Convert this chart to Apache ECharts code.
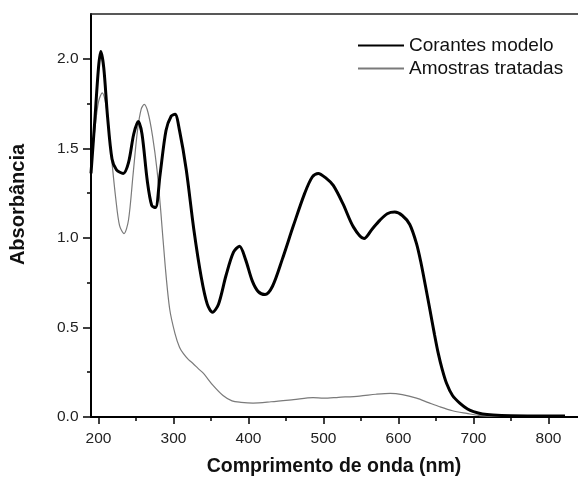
<!DOCTYPE html>
<html><head><meta charset="utf-8">
<script src="https://cdn.jsdelivr.net/npm/echarts@6/dist/echarts.min.js"></script>
<style>html,body{margin:0;padding:0;background:#fff}#c{width:578px;height:480px}</style>
</head><body><div id="c"></div>
<script>
// Corantes modelo (thick black)
const wlCorantes = [190,195,200,203,207,212,218,224,233,240,247,253,258,265,271,276,282,290,297,302,308,317,327,337,345,352,360,370,380,388,396,405,413,422,432,445,460,475,485,493,503,513,526,540,554,565,575,585,595,605,615,624,630,636,642,648,653,658,664,672,682,692,700,712,726,750,780,822];
const absCorantes = [1.36,1.65,1.95,2.04,1.95,1.68,1.44,1.38,1.36,1.42,1.58,1.65,1.58,1.32,1.18,1.17,1.35,1.6,1.68,1.69,1.6,1.38,1.05,0.78,0.63,0.585,0.63,0.79,0.92,0.953,0.88,0.76,0.7,0.684,0.73,0.88,1.07,1.25,1.34,1.36,1.335,1.293,1.19,1.06,0.996,1.05,1.098,1.135,1.144,1.125,1.075,0.968,0.86,0.73,0.596,0.46,0.355,0.27,0.188,0.12,0.076,0.045,0.03,0.017,0.011,0.007,0.006,0.005];
// Amostras tratadas (thin grey)
const wlAmostras = [190,195,200,205,210,214,218,223,228,234,240,246,252,257,261,266,272,278,283,289,295,302,308,313,320,326,333,340,353,366,378,390,406,430,460,486,500,520,548,570,589,605,624,640,655,672,691,708,730,820];
const absAmostras = [1.38,1.6,1.76,1.81,1.74,1.6,1.42,1.22,1.07,1.024,1.1,1.35,1.6,1.72,1.745,1.7,1.57,1.38,1.15,0.84,0.6,0.466,0.39,0.355,0.32,0.299,0.27,0.243,0.175,0.12,0.09,0.082,0.078,0.085,0.097,0.108,0.105,0.11,0.117,0.127,0.132,0.125,0.105,0.08,0.057,0.035,0.02,0.008,0.004,0.003];
const seriesNames = ['Corantes modelo','Amostras tratadas'];
const xMajorTicks = [200,300,400,500,600,700,800];
const xMinorTicks = [250,350,450,550,650,750];
const yMajorTicks = [0,0.5,1.0,1.5,2.0];
const yMinorTicks = [0.25,0.75,1.25,1.75];
const xTitle = 'Comprimento de onda (nm)';
const yTitle = 'Absorbância';

const zip = (xs, ys) => xs.map((x, i) => [x, ys[i]]);
const FF = '"Liberation Sans", Arial, sans-serif';
const chart = echarts.init(document.getElementById('c'), null, {renderer: 'canvas'});
chart.setOption({
  animation: false,
  backgroundColor: '#fff',
  grid: {left: 91, right: 0, top: 14, bottom: 63, containLabel: false, outerBoundsMode: 'none'},
  legend: {
    orient: 'vertical', left: 357, top: 36, padding: 0, itemWidth: 46, itemHeight: 12, itemGap: 4,
    data: seriesNames,
    itemStyle: {opacity: 0},
    textStyle: {fontFamily: FF, fontSize: 19, color: '#111', padding: [0,0,0,0]},
  },
  xAxis: [
    {type: 'value', min: 190, max: 839.3, position: 'bottom',
     axisLine: {show: true, onZero: false, lineStyle: {color: '#000', width: 2}},
     axisTick: {show: true, customValues: xMajorTicks, length: 7, lineStyle: {color: '#000', width: 1.5}},
     axisLabel: {show: true, customValues: xMajorTicks, margin: 14, fontFamily: FF, fontSize: 15.5, color: '#222'},
     splitLine: {show: false}},
    {type: 'value', min: 190, max: 839.3, position: 'bottom',
     axisLine: {show: false, onZero: false},
     axisTick: {show: true, customValues: xMinorTicks, length: 4, lineStyle: {color: '#000', width: 1.5}},
     axisLabel: {show: false}, splitLine: {show: false}},
    {type: 'value', min: 190, max: 839.3, position: 'top',
     axisLine: {show: true, onZero: false, lineStyle: {color: '#222', width: 1.5}},
     axisTick: {show: false}, axisLabel: {show: false}, splitLine: {show: false}}
  ],
  yAxis: [
    {type: 'value', min: 0, max: 2.25, position: 'left',
     axisLine: {show: true, onZero: false, lineStyle: {color: '#000', width: 2}},
     axisTick: {show: true, customValues: yMajorTicks, length: 8, lineStyle: {color: '#000', width: 1.5}},
     axisLabel: {show: true, customValues: yMajorTicks, margin: 12.5, fontFamily: FF, fontSize: 15.5, color: '#222',
       formatter: v => Number(v).toFixed(1)},
     splitLine: {show: false}},
    {type: 'value', min: 0, max: 2.25, position: 'left',
     axisLine: {show: false, onZero: false},
     axisTick: {show: true, customValues: yMinorTicks, length: 4, lineStyle: {color: '#000', width: 1.5}},
     axisLabel: {show: false}, splitLine: {show: false}}
  ],
  series: [
    {name: seriesNames[1], type: 'line', xAxisIndex: 0, yAxisIndex: 0, data: zip(wlAmostras, absAmostras),
     symbol: 'none', smooth: 0.3, z: 2, lineStyle: {color: '#7a7a7a', width: 1.2}, itemStyle: {color: '#7a7a7a'}},
    {name: seriesNames[0], type: 'line', xAxisIndex: 0, yAxisIndex: 0, data: zip(wlCorantes, absCorantes),
     symbol: 'none', smooth: 0.3, z: 3, lineStyle: {color: '#000', width: 3}, itemStyle: {color: '#000'}}
  ],
  graphic: [
    {type: 'text', x: 334, y: 467, style: {text: xTitle, font: 'bold 19.5px ' + FF, fill: '#111', align: 'center', verticalAlign: 'middle', textAlign: 'center', textVerticalAlign: 'middle'}},
    {type: 'text', x: 18, y: 204.5, rotation: Math.PI / 2, style: {text: yTitle, font: 'bold 20px ' + FF, fill: '#111', align: 'center', verticalAlign: 'middle', textAlign: 'center', textVerticalAlign: 'middle'}}
  ]
});
</script></body></html>
